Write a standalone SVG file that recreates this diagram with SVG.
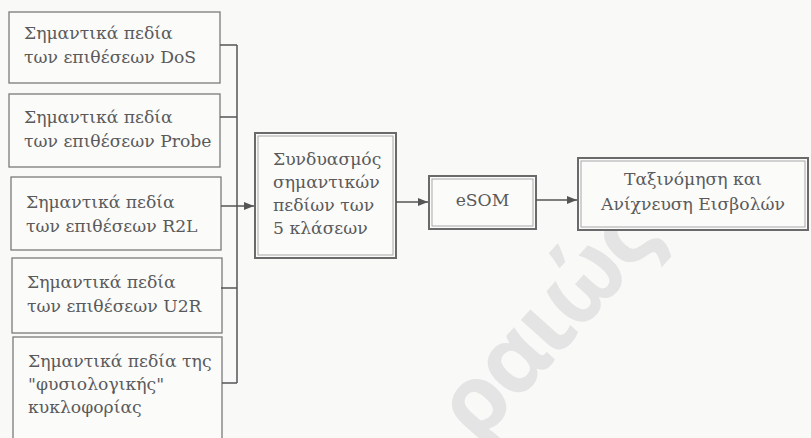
<svg xmlns="http://www.w3.org/2000/svg" width="811" height="438" viewBox="0 0 811 438">
<defs>
<style>
.bg{fill:#f9f9f8}
.box{fill:#fbfbfa;stroke:#7a7a7a;stroke-width:1.3}
.dbl{fill:#fbfbfa;stroke:#6a6a6a;stroke-width:2}
.inner{fill:none;stroke:#a8a8a8;stroke-width:1}
.t{font-family:"DejaVu Serif",serif;font-size:17.2px;fill:#5a5a5a}
.c{stroke:#555;stroke-width:1.5;fill:none}
.wm{font-family:"Open Sans","DejaVu Sans",sans-serif;font-size:95px;font-weight:bold;letter-spacing:-3px;fill:#e4e4e4}
</style>
<marker id="ah" viewBox="0 0 10 8" refX="10" refY="4" markerWidth="10" markerHeight="8" markerUnits="userSpaceOnUse" orient="auto">
<path d="M0,0 L10,4 L0,8 Z" fill="#555"/>
</marker>
</defs>
<rect class="bg" x="0" y="0" width="811" height="438"/>
<text class="wm" transform="translate(478,445) rotate(-48)">ραιώς</text>

<g id="n1"><rect class="box" x="9" y="12" width="211" height="71"/>
<text class="t" x="24" y="39">Σημαντικά πεδία</text><text class="t" x="24" y="63">των επιθέσεων DoS</text></g>
<g id="n2"><rect class="box" x="9" y="94" width="211" height="73"/>
<text class="t" x="24" y="123">Σημαντικά πεδία</text><text class="t" x="24" y="147">των επιθέσεων Probe</text></g>
<g id="n3"><rect class="box" x="11" y="177" width="210" height="73"/>
<text class="t" x="26" y="208">Σημαντικά πεδία</text><text class="t" x="26" y="232">των επιθέσεων R2L</text></g>
<g id="n4"><rect class="box" x="12" y="258" width="210" height="75"/>
<text class="t" x="27" y="288">Σημαντικά πεδία</text><text class="t" x="27" y="312">των επιθέσεων U2R</text></g>
<g id="n5"><rect class="box" x="13" y="337" width="209" height="112"/>
<text class="t" x="28" y="367">Σημαντικά πεδία της</text><text class="t" x="28" y="390">"φυσιολογικής"</text><text class="t" x="28" y="413">κυκλοφορίας</text></g>

<g id="n6"><rect class="dbl" x="255" y="133" width="141" height="125"/><rect class="inner" x="258" y="136" width="135" height="119"/>
<text class="t" x="273" y="165">Συνδυασμός</text><text class="t" x="273" y="188">σημαντικών</text><text class="t" x="273" y="211">πεδίων των</text><text class="t" x="273" y="234">5 κλάσεων</text></g>
<g id="n7"><rect class="dbl" x="429" y="176" width="107" height="53"/><rect class="inner" x="432" y="179" width="101" height="47"/>
<text class="t" x="482.5" y="206" text-anchor="middle">eSOM</text></g>
<g id="n8"><rect class="dbl" x="578" y="158" width="230" height="72"/><rect class="inner" x="581" y="161" width="224" height="66"/>
<text class="t" x="693" y="185" text-anchor="middle">Ταξινόμηση και</text><text class="t" x="693" y="210" text-anchor="middle">Ανίχνευση Εισβολών</text></g>

<g id="connectors">
<path class="c" d="M220,45 H237 M220,117 H237 M221,288 H237 M222,383 H237 M237,45 V383"/>
<path class="c" d="M221,206 H254" marker-end="url(#ah)"/>
<path class="c" d="M396,202 H428" marker-end="url(#ah)"/>
<path class="c" d="M536,200 H577" marker-end="url(#ah)"/>
</g>
</svg>
